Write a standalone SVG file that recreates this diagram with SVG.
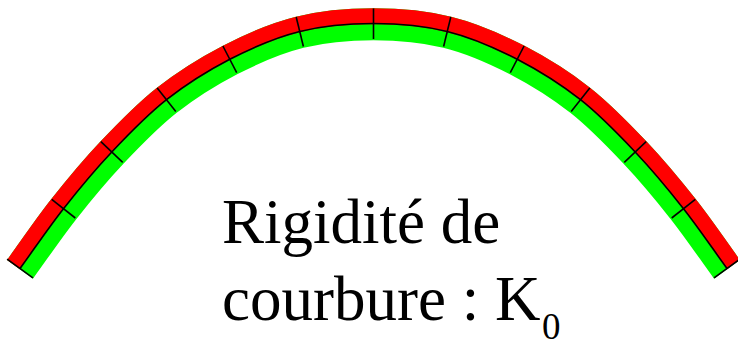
<svg xmlns="http://www.w3.org/2000/svg" width="738" height="347" viewBox="0 0 738 347">
  <style>
    .band { fill: none; stroke-width: 32; stroke-linecap: butt; }
    .green { stroke: #00ff00; }
    .red { stroke: #ff0000; }
    .line { fill: none; stroke: #000000; stroke-width: 1.6; }
    .tick { stroke: #000000; stroke-width: 1.6; }
    .label { font-family: "Liberation Serif", "Times New Roman", serif; fill: #000000; }
  </style>
  <defs>
    <path id="center" d="M20,268.5 C34.5,248.6 48.2,228.1 63.5,208.7 C78.8,189.3 94.6,170.2 111.8,152 C129,133.8 146.8,115.2 166.5,99.7 C186.2,84.3 207.6,70.8 229.8,59.3 C252,47.9 275.9,37.4 299.8,31.5 C323.7,25.5 348.9,23.5 373.5,23.5 C398.1,23.5 423.3,25.5 447.2,31.5 C471.1,37.4 495,47.9 517.2,59.3 C539.4,70.8 560.8,84.3 580.5,99.7 C600.2,115.2 618,133.8 635.2,152 C652.4,170.2 668.2,189.3 683.5,208.7 C698.8,228.1 712.5,248.6 727,268.5"/>
    <clipPath id="above">
      <path d="M-39,349.3 L20,268.5 C34.5,248.6 48.2,228.1 63.5,208.7 C78.8,189.3 94.6,170.2 111.8,152 C129,133.8 146.8,115.2 166.5,99.7 C186.2,84.3 207.6,70.8 229.8,59.3 C252,47.9 275.9,37.4 299.8,31.5 C323.7,25.5 348.9,23.5 373.5,23.5 C398.1,23.5 423.3,25.5 447.2,31.5 C471.1,37.4 495,47.9 517.2,59.3 C539.4,70.8 560.8,84.3 580.5,99.7 C600.2,115.2 618,133.8 635.2,152 C652.4,170.2 668.2,189.3 683.5,208.7 C698.8,228.1 712.5,248.6 727,268.5 L786,349.3 L786,-20 L-39,-20 Z"/>
    </clipPath>
  </defs>
  <g id="beam">
    <use href="#center" class="band green" transform="translate(0,0.8)"/>
    <use href="#center" class="band red" transform="translate(0,0.8)" clip-path="url(#above)"/>
    <use href="#center" class="line"/>
    <g id="ticks">
      <line class="tick" x1="7.1" y1="259.1" x2="32.9" y2="277.9"/>
      <line class="tick" x1="51.7" y1="199.4" x2="75.3" y2="218"/>
      <line class="tick" x1="100.9" y1="141.7" x2="122.7" y2="162.3"/>
      <line class="tick" x1="157.2" y1="87.9" x2="175.8" y2="111.5"/>
      <line class="tick" x1="222.9" y1="46" x2="236.7" y2="72.6"/>
      <line class="tick" x1="296.2" y1="17" x2="303.4" y2="46.5"/>
      <line class="tick" x1="373.5" y1="8.5" x2="373.5" y2="39"/>
      <line class="tick" x1="450.8" y1="17" x2="443.6" y2="46.5"/>
      <line class="tick" x1="524.1" y1="46" x2="510.3" y2="72.6"/>
      <line class="tick" x1="589.8" y1="87.9" x2="571.2" y2="111.5"/>
      <line class="tick" x1="646.1" y1="141.7" x2="624.3" y2="162.3"/>
      <line class="tick" x1="695.3" y1="199.4" x2="671.7" y2="218"/>
      <line class="tick" x1="739.9" y1="259.1" x2="714.1" y2="277.9"/>
    </g>
  </g>
  <g id="label">
    <text class="label" x="222" y="243" font-size="63">Rigidité de</text>
    <text class="label" x="222" y="320" font-size="63">courbure : K</text>
    <text class="label" x="542" y="339" font-size="37">0</text>
  </g>
</svg>
